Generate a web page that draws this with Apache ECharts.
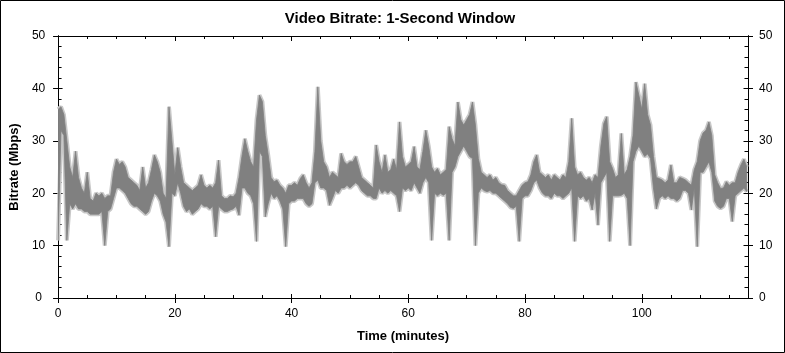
<!DOCTYPE html>
<html>
<head>
<meta charset="utf-8">
<script src="https://cdn.jsdelivr.net/npm/echarts@6/dist/echarts.min.js"></script>
<style>
html,body{margin:0;padding:0;background:#fff;}
#chart{width:785px;height:353px;}
</style>
</head>
<body>
<div id="chart"></div>
<script>
// Bitrate, per half-minute bin: lowest and highest value in each bin (Mbps)
const binStartMinutes = 0;
const binWidthMinutes = 0.5;
const lowMbps = [
  11,32,31,11,18,17,18,17,17,16.5,
  16.5,16,16,16,16,16.5,10,16.5,17,19,
  21,21,20.5,20,19,18,17.5,17.5,17,16.5,
  16,16.5,18.5,20,19.5,18.5,16,14.5,9.8,20,
  19.5,22,20,17.5,16.5,17,16,16.5,17,18,
  17.5,17.5,17,17.5,11.7,17.5,17,16.5,16.5,16.8,
  17,17.5,15.8,21,21,20,19.5,18,10.8,28,
  27,15.5,18,20,19,19.5,18.5,17,9.8,18,
  18.5,18.5,19,19,19,18,17.5,18,22,22.5,
  21,21,20.5,17.7,19,20.5,20,21,21,21.5,
  21,21.5,22,21.5,20.5,20,19.5,19.5,19,19,
  21,20,20.5,20,20.5,20,19.5,16.5,21,20.5,
  21,20.5,22,21,20,22,23,22,11,20,
  19.5,20,19.6,20,11,24,25,27,28,29,
  28,27,26.6,10,20,21,20.5,20.3,20.5,20,
  20,19.5,19,18.5,18,17.3,17.1,17.5,10.8,19,
  19.5,19.5,20.5,22,22.5,21,20,19.5,19.5,19,
  20,19.5,19.5,19,19.5,20,21,10.8,19.5,19,
  19.5,18.5,19,16.8,20,13.9,22,23,24,10.8,
  19.5,19.5,19.5,19.6,20,19,10,26,28,29,
  28,27,27.5,26.6,21,17,19,19.5,19,19.5,
  19,19,18.5,19,20.5,20.5,20,16.8,21,9.8,
  24,24,25,26,24,18.5,17.5,17.1,17.5,19,
  19,14.6,19.5,20,20.5,21,20.3
];
const highMbps = [
  36,36.5,35,30,25,23,28,23,21,20,
  24,19,18.5,20,19.5,20,19,19.5,19.5,24,
  26.5,25.5,26,25,23,22.5,22,21.5,20.5,25,
  21,22,24.5,27.3,26,24,20,19,36.5,30,
  23.5,28.7,25,22,21.5,21,20.5,21,21.5,23.5,
  21.5,21,21.5,21,22,26.3,19.5,19,19,19.5,
  19.3,20,23,27,30.4,28,26,25,34,38.7,
  37.5,31,27.3,23,22.2,22.5,21.5,21,20,21.5,
  21.5,22,21.5,22.8,23.5,22,21,22,27.9,40.3,
  30,26,25,23,24,23.5,23,27.6,26,25.5,
  26,26,27,25,23,22.5,22,21.5,21,29.2,
  26,24,27.3,24,24.5,26.5,24.5,33.6,27,25,
  25.5,26,28.9,25,24.5,28,32,29,25,24,
  24.7,23.5,24,24.5,32.7,30.4,29,37.4,34,33,
  34,35,37.4,33,26.6,24,23.5,23,23.5,22.5,
  23,22,21.6,21.5,20.5,20,19.5,19.5,20.5,21.5,
  22,22.2,23.5,26,27.3,24,23.5,23,23.5,22.5,
  23.5,23,22.5,23.5,23,26,34.3,25,23.5,24,
  23,22.5,23,22,23.5,23,29,33.3,34.6,26,
  24.7,23,23.5,31.4,23.5,24.5,27,31,41.2,38.7,
  36,40.9,35,33,27,23,22.8,22.5,22,22.5,
  25.4,22,22,23,22.8,22.5,22,21.5,24.5,26,
  30,31.5,32,33.6,31,23.5,22,20.9,21,22.2,
  21.5,22,22,24,25.4,26.5,25
];
const xMajorTicks = [0, 20, 40, 60, 80, 100];
const xMinorTicks = [0,5,10,15,20,25,30,35,40,45,50,55,60,65,70,75,80,85,90,95,100,105,110,115];
const yMajorTicks = [0, 10, 20, 30, 40, 50];
const yMinorTicks = [0,2,4,6,8,10,12,14,16,18,20,22,24,26,28,30,32,34,36,38,40,42,44,46,48,50];
const xMaxMinutes = 118.2;

// lower and upper envelope of the 1-second trace; the band between them is filled
const binTimes = lowMbps.map((_, i) => binStartMinutes + i * binWidthMinutes);
const lowerEdge = binTimes.map((t, i) => [t, lowMbps[i]]);
const upperEdge = binTimes.map((t, i) => [t, highMbps[i]]);

const FONT = '"Liberation Sans", Arial, sans-serif';
const black = {color: '#000', width: 1};

function xAxisDef(position, tickValues, inside, len, withLabels) {
  return {
    type: 'value', position: position, min: 0, max: xMaxMinutes, interval: 20,
    axisLine: {show: true, onZero: false, lineStyle: black},
    axisTick: {show: true, inside: inside, length: len, customValues: tickValues, lineStyle: black},
    axisLabel: {show: !!withLabels, customValues: xMajorTicks, margin: 10, color: '#000', fontSize: 12, fontFamily: FONT},
    splitLine: {show: false}
  };
}
function yAxisDef(position, tickValues, inside, len, withLabels, align, margin) {
  return {
    type: 'value', position: position, min: 0, max: 50, interval: 10,
    axisLine: {show: true, onZero: false, lineStyle: black},
    axisTick: {show: true, inside: inside, length: len, customValues: tickValues, lineStyle: black},
    axisLabel: {show: !!withLabels, customValues: yMajorTicks, margin: margin || 8, align: align, color: '#000', fontSize: 12, fontFamily: FONT},
    splitLine: {show: false}
  };
}

const xAxes = [
  Object.assign(xAxisDef('bottom', xMajorTicks, false, 5, true), {
    name: 'Time (minutes)', nameLocation: 'middle', nameGap: 32,
    nameTextStyle: {fontSize: 13, fontWeight: 'bold', color: '#000', fontFamily: FONT}
  }),
  xAxisDef('bottom', xMajorTicks, true, 4, false),
  xAxisDef('bottom', xMinorTicks, true, 3, false),
  xAxisDef('top', xMajorTicks, true, 5, false),
  xAxisDef('top', xMinorTicks, true, 3, false)
];
const yAxes = [
  Object.assign(yAxisDef('left', yMajorTicks, false, 5, true, 'center', 19.5), {
    name: 'Bitrate (Mbps)', nameLocation: 'middle', nameGap: 33,
    nameTextStyle: {fontSize: 13, fontWeight: 'bold', color: '#000', fontFamily: FONT}
  }),
  yAxisDef('left', yMajorTicks, true, 4.5, false),
  yAxisDef('left', yMinorTicks, true, 3.5, false),
  yAxisDef('right', yMajorTicks, false, 5, true, 'left', 11),
  yAxisDef('right', yMajorTicks, true, 4.5, false),
  yAxisDef('right', yMinorTicks, true, 3.5, false)
];

const halo = {color: '#c8c8c8', width: 4};
const dark = '#808080';

// the band between the envelopes, projected through the chart's own axes
function renderBand(params, api) {
  const upper = upperEdge.map(p => api.coord(p));
  const lower = lowerEdge.map(p => api.coord(p)).reverse();
  return {
    type: 'polygon',
    shape: {points: upper.concat(lower)},
    style: {fill: dark, stroke: dark, lineWidth: 0.8}
  };
}

const chart = echarts.init(document.getElementById('chart'), null, {renderer: 'canvas'});
chart.setOption({
  animation: false,
  backgroundColor: '#fff',
  title: {
    text: 'Video Bitrate: 1-Second Window',
    left: 395, textAlign: 'center', top: 6,
    textStyle: {fontSize: 15, fontWeight: 'bold', color: '#000', fontFamily: FONT}
  },
  grid: {left: 58, right: 37, top: 36, bottom: 55, containLabel: false},
  xAxis: xAxes,
  yAxis: yAxes,
  graphic: [{
    type: 'rect', silent: true, z: 100,
    shape: {x: 0.5, y: 0.5, width: 784, height: 352},
    style: {fill: 'none', stroke: '#000', lineWidth: 1}
  }],
  series: [
    {type: 'line', data: lowerEdge, symbol: 'none', silent: true, z: 1, lineStyle: halo},
    {type: 'line', data: upperEdge, symbol: 'none', silent: true, z: 1, lineStyle: halo},
    {type: 'custom', data: [[binStartMinutes, lowMbps[0]]], renderItem: renderBand,
      clip: true, silent: true, z: 2}
  ]
});
</script>
</body>
</html>
